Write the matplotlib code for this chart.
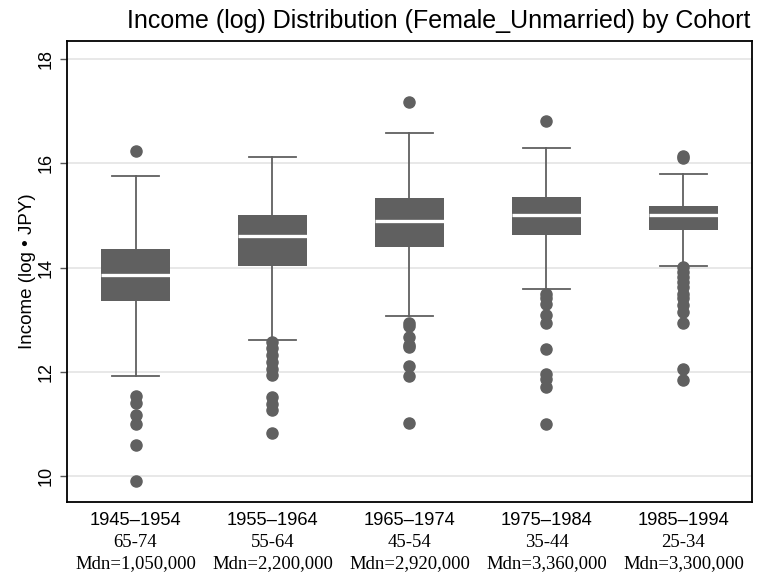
import matplotlib
matplotlib.use("Agg")
import matplotlib.pyplot as plt

# Cohort labels and extra tick text
cohorts = ["1945\u20131954", "1955\u20131964", "1965\u20131974", "1975\u20131984", "1985\u20131994"]
ages = ["65-74", "55-64", "45-54", "35-44", "25-34"]
medians_jpy = ["Mdn=1,050,000", "Mdn=2,200,000", "Mdn=2,920,000", "Mdn=3,360,000", "Mdn=3,300,000"]

# Box statistics (log income)
q1 = [13.36, 14.03, 14.40, 14.63, 14.73]
med = [13.86, 14.60, 14.89, 15.01, 15.00]
q3 = [14.36, 15.00, 15.33, 15.35, 15.19]
whislo = [11.92, 12.61, 13.07, 13.59, 14.03]
whishi = [15.76, 16.12, 16.59, 16.29, 15.80]
fliers = [
    [16.24, 11.53, 11.40, 11.17, 11.00, 10.59, 9.90],
    [12.58, 12.45, 12.32, 12.19, 12.06, 11.94, 11.52, 11.39, 11.26, 10.82],
    [17.18, 12.93, 12.88, 12.67, 12.52, 12.48, 12.11, 11.92, 11.01],
    [16.81, 13.50, 13.41, 13.31, 13.09, 12.93, 12.43, 11.96, 11.87, 11.70, 11.00],
    [16.15, 16.11, 14.01, 13.92, 13.82, 13.73, 13.63, 13.50, 13.41, 13.28, 13.15,
     12.94, 12.05, 11.85],
]

stats = []
for i in range(len(cohorts)):
    stats.append(dict(q1=q1[i], med=med[i], q3=q3[i], whislo=whislo[i],
                      whishi=whishi[i], fliers=fliers[i], label=cohorts[i]))

gray = "#606060"
fig = plt.figure(figsize=(7.58, 5.75), dpi=100)
ax = fig.add_axes([0.0884, 0.127, 0.9036, 0.8017])

pos = [1, 2, 3, 4, 5]
ax.bxp(stats, positions=pos, widths=0.5, capwidths=0.34, patch_artist=True,
       boxprops=dict(facecolor=gray, edgecolor=gray, linewidth=0),
       medianprops=dict(color="white", linewidth=2.4),
       whiskerprops=dict(color=gray, linewidth=1.3),
       capprops=dict(color=gray, linewidth=1.3),
       flierprops=dict(marker="o", markerfacecolor=gray, markeredgecolor=gray,
                       markersize=8, linestyle="none"))

ax.set_xlim(0.5, 5.5)
ax.set_ylim(9.5, 18.35)
ax.set_yticks([10, 12, 14, 16, 18])
ax.yaxis.grid(True, color="#e2e2e2", linewidth=1.1)
ax.set_axisbelow(True)

for s in ax.spines.values():
    s.set_color("black")
    s.set_linewidth(1.3)

ax.tick_params(axis="y", length=5, color="#555555", width=1, pad=4)
for t in ax.get_yticklabels():
    t.set_rotation(90)
    t.set_va("center")
    t.set_fontfamily("Liberation Sans")
    t.set_fontsize(13)

ax.set_xticks(pos, labels=cohorts)
ax.tick_params(axis="x", length=0, pad=7)
for t in ax.get_xticklabels():
    t.set_fontfamily("Liberation Sans")
    t.set_fontsize(13.2)

for i in range(len(pos)):
    ax.annotate(ages[i], xy=(pos[i], 0), xycoords=("data", "axes fraction"),
                xytext=(0, -29.5), textcoords="offset points", ha="center", va="center",
                fontfamily="Liberation Serif", fontsize=13.5)
    ax.annotate(medians_jpy[i], xy=(pos[i], 0), xycoords=("data", "axes fraction"),
                xytext=(0, -44.5), textcoords="offset points", ha="center", va="center",
                fontfamily="Liberation Serif", fontsize=13.5)

ax.set_ylabel("Income (log \u2022 JPY)", fontfamily="Liberation Sans", fontsize=13.5, labelpad=1)

fig.text(0.99, 0.964, "Income (log) Distribution (Female_Unmarried) by Cohort",
         ha="right", va="center", fontfamily="Liberation Sans", fontsize=18)

fig.savefig("out.png", dpi=100)
